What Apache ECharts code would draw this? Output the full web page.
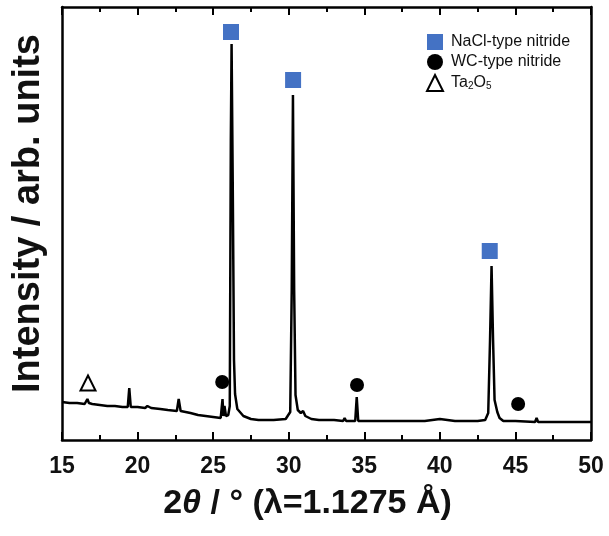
<!DOCTYPE html>
<html><head><meta charset="utf-8">
<script src="https://cdn.jsdelivr.net/npm/echarts@6/dist/echarts.min.js"></script>
<style>html,body{margin:0;padding:0;background:#fff}#c{width:609px;height:536px}</style>
</head><body><div id="c"></div>
<script>
// XRD pattern: [2theta, intensity (arb.)]
var pattern = [
[15.0,38],[15.5,37],[16.0,37],[16.5,36],[16.6,38],[16.68,41],[16.78,37],[17.0,36],[17.5,35],[18.0,34],[18.5,34],[19.0,33],
[19.35,33],[19.45,52],[19.55,33],[20.0,33],[20.5,32],[20.65,34],[20.75,35],[20.9,32],[21.5,31],[22.0,30],[22.6,29],
[22.72,41],[22.85,29],[23.5,27],[24.0,25],[24.5,24],[25.0,23],[25.5,22],[25.56,22],[25.62,41],[25.68,24],[25.75,34],
[25.85,24],[26.0,25],[26.1,34],[26.17,300],[26.22,396],[26.3,250],[26.38,80],[26.45,46],[26.6,31],[27.0,24],[27.5,21],
[28.0,20],[29.0,20],[29.8,21],[30.1,28],[30.2,150],[30.28,345],[30.36,150],[30.45,45],[30.6,30],[30.8,27],[30.95,29],
[31.1,24],[31.5,21],[32.0,20],[33.0,20],[33.6,19],[33.7,22],[33.8,19],[34.4,19],[34.5,43],[34.6,19],[35.0,19],[36.0,19],
[36.9,19],[37.0,21],[37.1,19],[38.0,19],[39.0,19],[40.0,21],[40.1,19],[41.0,19],[42.0,19],[42.5,19],[43.0,20],[43.2,27],
[43.32,100],[43.42,174],[43.52,100],[43.62,40],[43.8,28],[43.95,22],[44.2,19],[45.0,19],[45.05,21],[45.1,18],[46.3,18],
[46.4,22],[46.5,18],[47.0,18],[48.0,18],[49.0,18],[50.0,18]
];
var naclMarks = [[26.18,408],[30.29,360],[43.3,189]];
var wcMarks = [[25.6,58],[34.52,55],[45.18,36]];
var ta2o5Marks = [[16.72,57]];
var xTicks = [15,20,25,30,35,40,45,50];
var legendNames = ['NaCl-type nitride','WC-type nitride','Ta2O5'];

var chart = echarts.init(document.getElementById('c'), null, {renderer:'canvas'});
var FONT = 'Liberation Sans, Arial, Helvetica, sans-serif';
var xCommon = {
  type:'value', min:xTicks[0], max:xTicks[xTicks.length-1], interval:5,
  axisLine:{show:true, onZero:false, lineStyle:{color:'#000', width:2.5}},
  axisTick:{show:true, inside:true, length:8, lineStyle:{color:'#000', width:2}},
  minorTick:{show:true, splitNumber:2, length:5, lineStyle:{color:'#000', width:2}},
  splitLine:{show:false}
};
chart.setOption({
  animation:false,
  backgroundColor:'#fff',
  grid:{left:62, right:18, top:7, bottom:96, containLabel:false},
  legend:{
    orient:'vertical', left:421, top:29, itemWidth:16, itemHeight:16, itemGap:4,
    data:legendNames,
    textStyle:{fontFamily:FONT, fontSize:16, color:'#111', padding:[0,0,0,3],
      rich:{s:{fontFamily:FONT, fontSize:10, color:'#111', verticalAlign:'bottom', padding:[7,0,0,0]}}},
    formatter:function(n){ return n==='Ta2O5' ? 'Ta{s|2}O{s|5}' : n; }
  },
  xAxis:[
    Object.assign({}, xCommon, {position:'bottom',
      axisLabel:{show:true, margin:15, fontFamily:FONT, fontSize:23, fontWeight:'bold', color:'#111'},
      name:'2{i|θ} / ° (λ=1.1275 Å)', nameLocation:'middle', nameGap:47,
      nameTextStyle:{fontFamily:FONT, fontSize:34, fontWeight:'bold', color:'#111', padding:[0,38,0,0],
        rich:{i:{fontFamily:FONT, fontSize:34, fontWeight:'bold', fontStyle:'italic', color:'#111'}}}
    }),
    Object.assign({}, xCommon, {position:'top', axisLabel:{show:false}})
  ],
  yAxis:[
    {type:'value', min:0, max:433, position:'left',
     axisLine:{show:true, lineStyle:{color:'#000', width:2.5}}, axisTick:{show:false}, axisLabel:{show:false},
     splitLine:{show:false},
     name:'Intensity / arb. units', nameLocation:'middle', nameGap:14, nameRotate:90,
     nameTextStyle:{fontFamily:FONT, fontSize:38, fontWeight:'bold', color:'#111', padding:[0,0,0,20]}},
    {type:'value', min:0, max:433, position:'right',
     axisLine:{show:true, lineStyle:{color:'#000', width:2.5}}, axisTick:{show:false}, axisLabel:{show:false},
     splitLine:{show:false}}
  ],
  series:[
    {type:'line', name:'pattern', data:pattern, showSymbol:false, symbol:'none',
     lineStyle:{color:'#000', width:2.5}, silent:true, z:2},
    {type:'scatter', name:legendNames[0], data:naclMarks, symbol:'rect', symbolSize:16,
     itemStyle:{color:'#4472C4', opacity:1}, z:3},
    {type:'scatter', name:legendNames[1], data:wcMarks, symbol:'circle', symbolSize:14,
     itemStyle:{color:'#000', opacity:1}, z:3},
    {type:'scatter', name:legendNames[2], data:ta2o5Marks, symbol:'triangle', symbolSize:15,
     itemStyle:{color:'#fff', borderColor:'#000', borderWidth:2, opacity:1}, z:3}
  ]
});
</script></body></html>
